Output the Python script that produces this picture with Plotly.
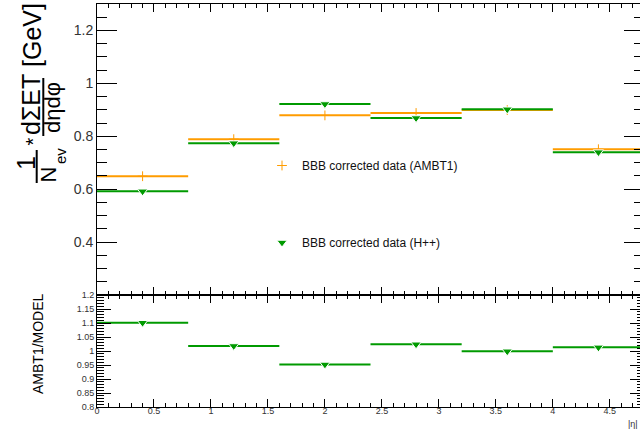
import plotly.graph_objects as go

# ---- data ----
bin_centers = [0.4, 1.2, 2.0, 2.8, 3.6, 4.4]
bin_halfwidth = [0.4, 0.4, 0.4, 0.4, 0.4, 0.4]
ambt1 = [0.649, 0.789, 0.879, 0.888, 0.899, 0.751]
hpp = [0.592, 0.774, 0.922, 0.869, 0.902, 0.740]
ratio = [1.101, 1.018, 0.952, 1.024, 0.999, 1.013]
top_tickvals = [0.2, 0.4, 0.6, 0.8, 1.0, 1.2]
top_ticktext = ["", "0.4", "0.6", "0.8", "1", "1.2"]
legend_names = ["BBB corrected data (AMBT1)", "BBB corrected data (H++)"]

ORANGE = "#ff9c00"
GREEN = "#009a00"

W, H = 644, 432
ML, MR, MT, MB = 97, 0, 4, 25
PW = W - ML - MR
PH = H - MT - MB


def px(xp):
    return (xp - ML) / PW


def py(yp):
    return (H - MB - yp) / PH


split = py(295)

fig = go.Figure()

fig.add_trace(go.Scatter(
    x=bin_centers, y=ambt1, mode="markers", name=legend_names[0],
    legendgroup="a",
    marker=dict(symbol="cross-thin", size=7, color=ORANGE,
                line=dict(color=ORANGE, width=1)),
    error_x=dict(type="data", array=bin_halfwidth, width=0,
                 thickness=2, color=ORANGE),
    xaxis="x", yaxis="y"))

fig.add_trace(go.Scatter(
    x=bin_centers, y=hpp, mode="markers", name=legend_names[1],
    legendgroup="b",
    marker=dict(symbol="triangle-down", size=9, color=GREEN,
                line=dict(color="white", width=1)),
    error_x=dict(type="data", array=bin_halfwidth, width=0,
                 thickness=2, color=GREEN),
    xaxis="x", yaxis="y"))

fig.add_trace(go.Scatter(
    x=bin_centers, y=ratio, mode="markers", showlegend=False,
    marker=dict(symbol="triangle-down", size=9, color=GREEN,
                line=dict(color="white", width=1)),
    error_x=dict(type="data", array=bin_halfwidth, width=0,
                 thickness=2, color=GREEN),
    xaxis="x2", yaxis="y2"))

FONT = "Liberation Sans, Arial"
axis_common = dict(showline=True, linecolor="black", linewidth=1,
                   ticks="inside", tickcolor="black", tickwidth=1,
                   mirror="ticks", showgrid=False, zeroline=False)

fig.update_layout(
    width=W, height=H,
    margin=dict(l=ML, r=MR, t=MT, b=MB),
    paper_bgcolor="white", plot_bgcolor="white",
    font=dict(family=FONT, color="black"),
    showlegend=True,
    legend=dict(x=px(262), y=py(151), xanchor="left", yanchor="top",
                bgcolor="rgba(0,0,0,0)", borderwidth=0,
                font=dict(size=12, color="#111"),
                tracegroupgap=58, traceorder="grouped"),
    xaxis=dict(domain=[0, 1], range=[0, 4.8], anchor="y",
               showticklabels=False, dtick=0.5, tick0=0, ticklen=8,
               minor=dict(dtick=0.1, tick0=0, ticklen=4, ticks="inside",
                          tickcolor="black"),
               **axis_common),
    yaxis=dict(domain=[split, 1], range=[0.2, 1.3], anchor="x",
               tickmode="array", tickvals=top_tickvals, ticktext=top_ticktext,
               ticklen=20, tickfont=dict(family=FONT, color="#333", size=14),
               minor=dict(dtick=0.05, tick0=0.2, ticklen=10, ticks="inside",
                          tickcolor="black"),
               **axis_common),
    xaxis2=dict(domain=[0, 1], range=[0, 4.8], anchor="y2",
                dtick=0.5, tick0=0, ticklen=8, ticklabelstandoff=-5,
                tickfont=dict(family=FONT, color="#333", size=9),
                minor=dict(dtick=0.1, tick0=0, ticklen=4, ticks="inside",
                           tickcolor="black"),
                **axis_common),
    yaxis2=dict(domain=[0, split], range=[0.8, 1.2], anchor="x2",
                dtick=0.05, tick0=0.8, ticklen=14,
                tickfont=dict(family=FONT, color="#333", size=9),
                minor=dict(dtick=0.01, tick0=0.8, ticklen=7, ticks="inside",
                           tickcolor="black"),
                **axis_common),
)


# ---- rotated y-axis title pieces ----
def ann(text, xp, yp, size):
    fig.add_annotation(text=text, x=px(xp), y=py(yp), xref="paper", yref="paper",
                       xanchor="center", yanchor="middle", textangle=-90,
                       showarrow=False,
                       font=dict(size=size, family=FONT, color="black"))


ann("1", 26, 163, 25)
ann("N", 47.5, 175, 22)
ann("ev", 60, 156, 15)
ann("*", 33, 141.5, 20)
ann("d\u03a3ET", 31, 105, 25)
ann("d\u03b7d\u03c6", 52.5, 107.5, 22)
ann("[GeV]", 32, 35, 25)
ann("AMBT1/MODEL", 38, 344, 14)

fig.add_shape(type="line", xref="paper", yref="paper",
              x0=px(36.7), x1=px(36.7), y0=py(150), y1=py(183),
              line=dict(color="black", width=2))
fig.add_shape(type="line", xref="paper", yref="paper",
              x0=px(43.3), x1=px(43.3), y0=py(78), y1=py(136),
              line=dict(color="black", width=2))

fig.add_annotation(text="|\u03b7|", x=px(640), y=py(424), xref="paper", yref="paper",
                   xanchor="right", yanchor="middle", showarrow=False,
                   font=dict(size=9, family=FONT, color="#333"))

fig.write_html("out.html",
               config={"displayModeBar": False},
               post_script="document.body.style.margin='0';"
                           "document.body.style.overflow='hidden';")
